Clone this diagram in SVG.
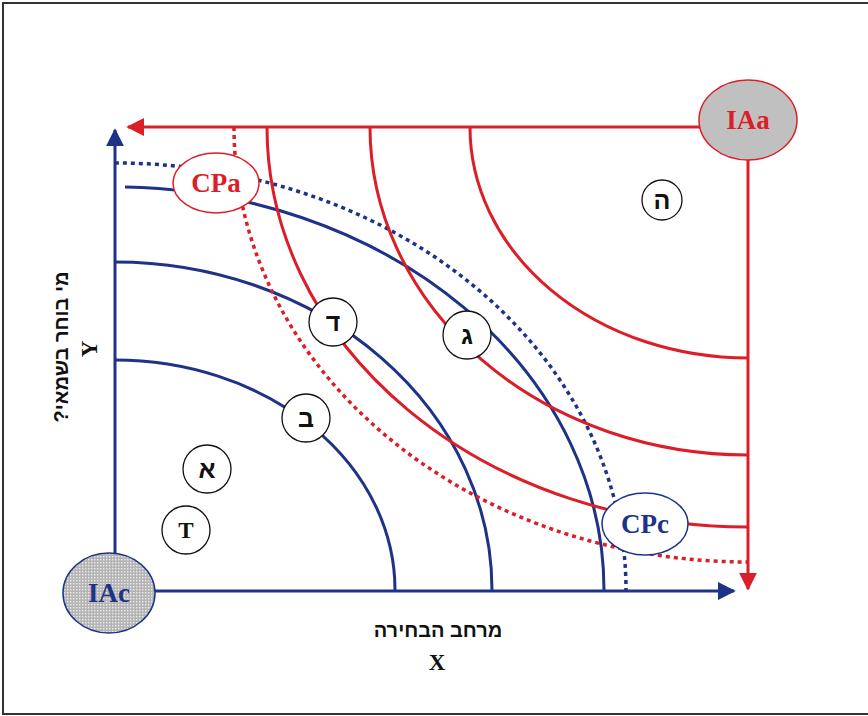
<svg xmlns="http://www.w3.org/2000/svg" width="868" height="716" viewBox="0 0 868 716">
<style>
.b{fill:none;stroke:#1e3288;stroke-width:3}
.r{fill:none;stroke:#dc1e28;stroke-width:3}
.bd{fill:none;stroke:#1e3288;stroke-width:3.5;stroke-dasharray:4 4}
.rd{fill:none;stroke:#dc1e28;stroke-width:3.5;stroke-dasharray:4 4}
.lbl{fill:#fff;stroke:#111;stroke-width:1.3}
.lt{font-family:"Liberation Sans","DejaVu Sans",sans-serif;font-weight:bold;font-size:25px;fill:#111;text-anchor:middle}
.tt{font-family:"Liberation Serif","DejaVu Serif",serif;font-weight:bold;font-size:23px;fill:#111;text-anchor:middle}
.nm{font-family:"Liberation Serif","DejaVu Serif",serif;font-weight:bold;font-size:27px;text-anchor:middle}
.heb{font-family:"Liberation Sans","DejaVu Sans",sans-serif;font-weight:bold;font-size:20px;fill:#111;text-anchor:middle}
</style>
<defs>
<marker id="ab" viewBox="0 0 10 10" refX="9" refY="5" markerWidth="6" markerHeight="6" markerUnits="strokeWidth" orient="auto"><path d="M0,0 L10,5 L0,10 Z" fill="#1e3288"/></marker>
<marker id="ar" viewBox="0 0 10 10" refX="9" refY="5" markerWidth="6" markerHeight="6" markerUnits="strokeWidth" orient="auto"><path d="M0,0 L10,5 L0,10 Z" fill="#dc1e28"/></marker>
<pattern id="dots" width="3" height="3" patternUnits="userSpaceOnUse"><rect width="3" height="3" fill="#b4b4b4"/><rect x="1" y="1" width="1.4" height="1.4" fill="#ececec"/></pattern>
</defs>
<rect x="3" y="3" width="880" height="711" fill="#fff" stroke="#333" stroke-width="2"/>
<g id="connectors">
<path class="b" d="M115,590 V130" marker-end="url(#ab)"/>
<path class="b" d="M115,591 H734" marker-end="url(#ab)"/>
<path class="r" d="M748,127 H128" marker-end="url(#ar)"/>
<path class="r" d="M748,127 V589" marker-end="url(#ar)"/>
<path class="b" d="M115,360 A280,230 0 0 1 395,590"/>
<path class="b" d="M115,262 A377,328 0 0 1 492,590"/>
<path class="b" d="M125,187.1 A489,403 0 0 1 604,590"/>
<path class="bd" d="M115,163 A511,427 0 0 1 626,590"/>
<path class="r" d="M470,127 A278,231 0 0 0 748,358"/>
<path class="r" d="M370,127 A378,328 0 0 0 748,455"/>
<path class="r" d="M267,127 A481,400 0 0 0 748,527"/>
<path class="rd" d="M234,127 A514,435 0 0 0 748,562"/>
</g>
<g id="IAa"><ellipse cx="748" cy="120" rx="49" ry="40" fill="#c0c0c0" stroke="#dc1e28" stroke-width="1.5"/><text class="nm" x="748" y="129" fill="#dc1e28">IAa</text></g>
<g id="IAc"><ellipse cx="109" cy="593" rx="46" ry="40" fill="url(#dots)" stroke="#1e3288" stroke-width="1.5"/><text class="nm" x="109" y="602" fill="#1e3288">IAc</text></g>
<g id="CPa"><ellipse cx="216" cy="183" rx="43" ry="30" fill="#fff" stroke="#dc1e28" stroke-width="1.5"/><text class="nm" x="216" y="192" fill="#dc1e28">CPa</text></g>
<g id="CPc"><ellipse cx="645" cy="524" rx="43" ry="31" fill="#fff" stroke="#1e3288" stroke-width="1.5"/><text class="nm" x="645" y="533" fill="#1e3288">CPc</text></g>
<g id="he"><circle class="lbl" cx="662" cy="200" r="20"/><text class="lt" x="662" y="209">ה</text></g>
<g id="gimel"><circle class="lbl" cx="467" cy="335" r="24"/><text class="lt" x="467" y="344">ג</text></g>
<g id="dalet"><circle class="lbl" cx="333" cy="322" r="24"/><text class="lt" x="333" y="331">ד</text></g>
<g id="bet"><circle class="lbl" cx="306" cy="418" r="24"/><text class="lt" x="306" y="427">ב</text></g>
<g id="alef"><circle class="lbl" cx="207" cy="469" r="24"/><text class="lt" x="207" y="478">א</text></g>
<g id="T"><circle class="lbl" cx="186" cy="530" r="24"/><text class="tt" x="186" y="538">T</text></g>
<g id="axis-labels">
<text class="heb" direction="rtl" transform="translate(68,347) rotate(-90)">מי בוחר בשמאי?</text>
<text class="tt" transform="translate(97,349) rotate(-90)">Y</text>
<text class="heb" direction="rtl" x="438" y="637">מרחב הבחירה</text>
<text class="tt" x="437" y="670">X</text>
</g>
</svg>
